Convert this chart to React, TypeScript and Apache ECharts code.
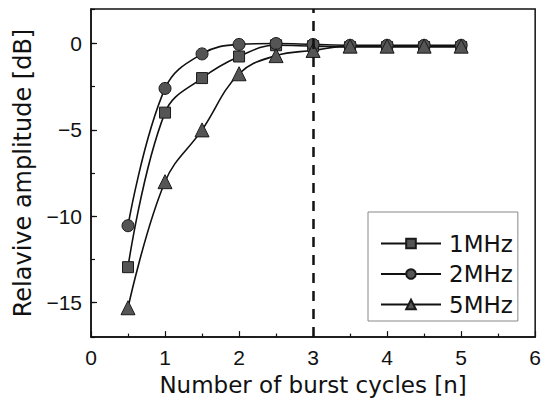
import React, { useEffect, useRef } from "react";
import * as echarts from "echarts";

const cycles = [0.5, 1, 1.5, 2, 2.5, 3, 3.5, 4, 4.5, 5];
const amp1MHz = [-12.95, -4.0, -2.0, -0.75, -0.1, -0.15, -0.2, -0.2, -0.2, -0.2];
const amp2MHz = [-10.55, -2.6, -0.6, -0.05, 0.0, -0.05, -0.1, -0.1, -0.1, -0.1];
const amp5MHz = [-15.3, -8.0, -5.0, -1.75, -0.7, -0.4, -0.15, -0.15, -0.15, -0.15];
const seriesNames = ["1MHz", "2MHz", "5MHz"];
const markerCycle = 3;

const pair = (ys: number[]) => cycles.map((x, i) => [x, ys[i]]);

export default function App() {
  const ref = useRef<HTMLDivElement>(null);
  useEffect(() => {
    if (!ref.current) return;
    const chart = echarts.init(ref.current, undefined, { renderer: "svg" });
    const markerStyle = { color: "#555", borderColor: "#1a1a1a", borderWidth: 1 };
    const lineStyle = { color: "#111", width: 1.6 };
    const fmt = (v: number) => (v < 0 ? "\u2212" + Math.abs(v) : String(v));
    chart.setOption({
      animation: false,
      backgroundColor: "#fff",
      textStyle: { fontFamily: "Liberation Sans" },
      grid: {
        left: 91,
        right: 2.5,
        top: 9,
        bottom: 63.5,
        show: true,
        borderColor: "#111",
        borderWidth: 1.5,
        containLabel: false,
      },
      legend: {
        orient: "vertical",
        left: 368,
        top: 212,
        itemWidth: 60,
        itemHeight: 12,
        itemGap: 7.5,
        padding: [20, 5, 5, 12],
        borderColor: "#888",
        borderWidth: 1,
        backgroundColor: "#fff",
        textStyle: {
          fontFamily: "DejaVu Sans",
          fontSize: 23,
          color: "#111",
          padding: [0, 0, 0, 3],
        },
        data: seriesNames,
      },
      xAxis: {
        type: "value",
        min: 0,
        max: 6,
        interval: 1,
        name: "Number of burst cycles [n]",
        nameLocation: "middle",
        nameGap: 33,
        nameTextStyle: { fontFamily: "DejaVu Sans", fontSize: 23, color: "#111" },
        axisLine: { show: true, onZero: false, lineStyle: { color: "#111", width: 1.5 } },
        axisTick: { show: true, inside: true, length: 6, lineStyle: { color: "#111", width: 1.2 } },
        minorTick: { show: true, splitNumber: 2, length: 3.5, lineStyle: { color: "#111", width: 1.2 } },
        axisLabel: { fontSize: 21, color: "#111", margin: 10, alignMaxLabel: "center", alignMinLabel: "center" },
        splitLine: { show: false },
      },
      yAxis: [
        {
          type: "value",
          min: -17,
          max: 2,
          splitNumber: 4,
          minInterval: 5,
          maxInterval: 5,
          name: "Relavive amplitude [dB]",
          nameLocation: "middle",
          nameGap: 53,
          nameTextStyle: { fontFamily: "DejaVu Sans", fontSize: 24, color: "#111" },
          axisLine: { show: true, onZero: false, lineStyle: { color: "#111", width: 1.5 } },
          axisTick: { show: true, inside: true, length: 6, lineStyle: { color: "#111", width: 1.2 } },
          axisLabel: {
            fontSize: 21,
            color: "#111",
            margin: 9,
            showMinLabel: false,
            showMaxLabel: false,
            formatter: fmt,
          },
          splitLine: { show: false },
        },
        {
          type: "value",
          min: -17,
          max: 2,
          splitNumber: 8,
          minInterval: 2.5,
          maxInterval: 2.5,
          position: "left",
          axisLine: { show: false, onZero: false },
          axisTick: { show: true, inside: true, length: 4, lineStyle: { color: "#111", width: 1.2 } },
          axisLabel: { show: false },
          splitLine: { show: false },
        },
      ],
      series: [
        {
          name: seriesNames[0],
          type: "line",
          data: pair(amp1MHz),
          smooth: 0.4,
          symbol: "rect",
          symbolSize: 11,
          itemStyle: markerStyle,
          lineStyle,
          z: 3,
          markLine: {
            silent: true,
            symbol: "none",
            label: { show: false },
            lineStyle: { color: "#111", width: 2.5, type: [10, 8] },
            data: [{ xAxis: markerCycle }],
          },
        },
        {
          name: seriesNames[1],
          type: "line",
          data: pair(amp2MHz),
          smooth: 0.4,
          symbol: "circle",
          symbolSize: 12,
          itemStyle: markerStyle,
          lineStyle,
          z: 3,
        },
        {
          name: seriesNames[2],
          type: "line",
          data: pair(amp5MHz),
          smooth: 0.4,
          symbol: "triangle",
          symbolSize: 14,
          itemStyle: markerStyle,
          lineStyle,
          z: 3,
        },
      ],
    });
    return () => chart.dispose();
  }, []);
  return <div ref={ref} style={{ width: 544, height: 401, position: "absolute", left: 0, top: 0 }} />;
}
